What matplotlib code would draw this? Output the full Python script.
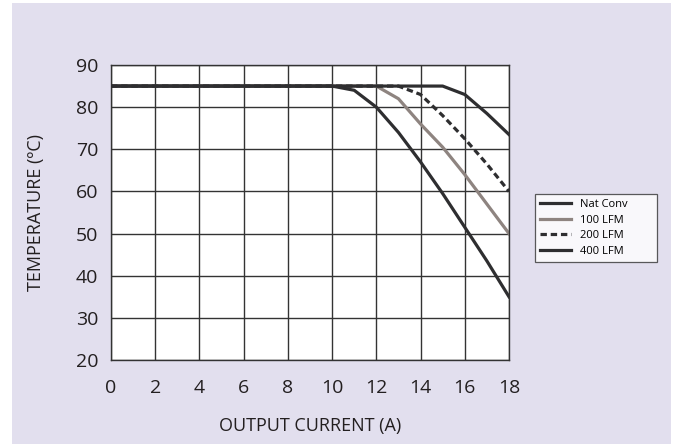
import matplotlib.pyplot as plt
import matplotlib.patches as mpatches

plt.rcParams['font.family'] = ['Open Sans', 'DejaVu Sans']

# Derating curves
current = [0, 2, 4, 6, 8, 10, 11, 12, 13, 14, 15, 16, 17, 18]
nat_conv = [85, 85, 85, 85, 85, 85, 84, 80, 74, 67, 59.5, 51.5, 43.5, 35]
lfm_100 = [85, 85, 85, 85, 85, 85, 85, 85, 82, 76, 70.5, 64, 57, 50]
lfm_200 = [85, 85, 85, 85, 85, 85, 85, 85, 85, 83, 78, 72.5, 66.5, 60]
lfm_400 = [85, 85, 85, 85, 85, 85, 85, 85, 85, 85, 85, 83, 78.5, 73.5]

x_ticks = [0, 2, 4, 6, 8, 10, 12, 14, 16, 18]
y_ticks = [20, 30, 40, 50, 60, 70, 80, 90]

bg = '#e2dfee'
dark = '#2e2e30'
grey = '#8e8480'
txt = '#231f20'

fig = plt.figure(figsize=(6.78, 4.44), dpi=100)
fig.patch.set_facecolor('white')
fig.patches.append(mpatches.Rectangle((12 / 678, 0), 659 / 678, 441 / 444,
                                      transform=fig.transFigure,
                                      facecolor=bg, edgecolor='none', zorder=-10))

ax = fig.add_axes([111 / 678, 1 - 360 / 444, 398 / 678, 295 / 444])
ax.set_facecolor('white')

ax.plot(current, nat_conv, color=dark, lw=2.3, label='Nat Conv', zorder=3)
ax.plot(current, lfm_100, color=grey, lw=2.3, label='100 LFM', zorder=2)
ax.plot(current, lfm_200, color=dark, lw=2.3, ls=(0, (2, 1.2)), label='200 LFM', zorder=2)
ax.plot(current, lfm_400, color=dark, lw=2.3, label='400 LFM', zorder=2)

ax.set_xlim(0, 18)
ax.set_ylim(20, 90)
ax.set_xticks(x_ticks)
ax.set_yticks(y_ticks)
ax.grid(True, color='#333333', lw=1.0)
ax.set_axisbelow(True)
for s in ax.spines.values():
    s.set_color('#333333')
    s.set_linewidth(1.0)
ax.tick_params(length=0, labelsize=14, labelcolor=txt)
ax.tick_params(axis='x', pad=14)
ax.tick_params(axis='y', pad=9)

ax.set_xlabel('OUTPUT CURRENT (A)', fontsize=13, color=txt, labelpad=14)
ax.set_ylabel('TEMPERATURE (ºC)', fontsize=13, color=txt, labelpad=22)

leg = fig.legend(loc='upper left',
                 bbox_to_anchor=(535 / 678, 1 - 263 / 444, 122 / 678, 69 / 444),
                 mode='expand', fontsize=8, frameon=True, fancybox=False,
                 handlelength=2.8, borderpad=0.45, labelspacing=0.42,
                 handletextpad=0.8, borderaxespad=0)
leg.get_frame().set_edgecolor('#333333')
leg.get_frame().set_facecolor('white')
leg.get_frame().set_linewidth(0.9)

fig.savefig('out.png', dpi=100, facecolor=fig.get_facecolor())
